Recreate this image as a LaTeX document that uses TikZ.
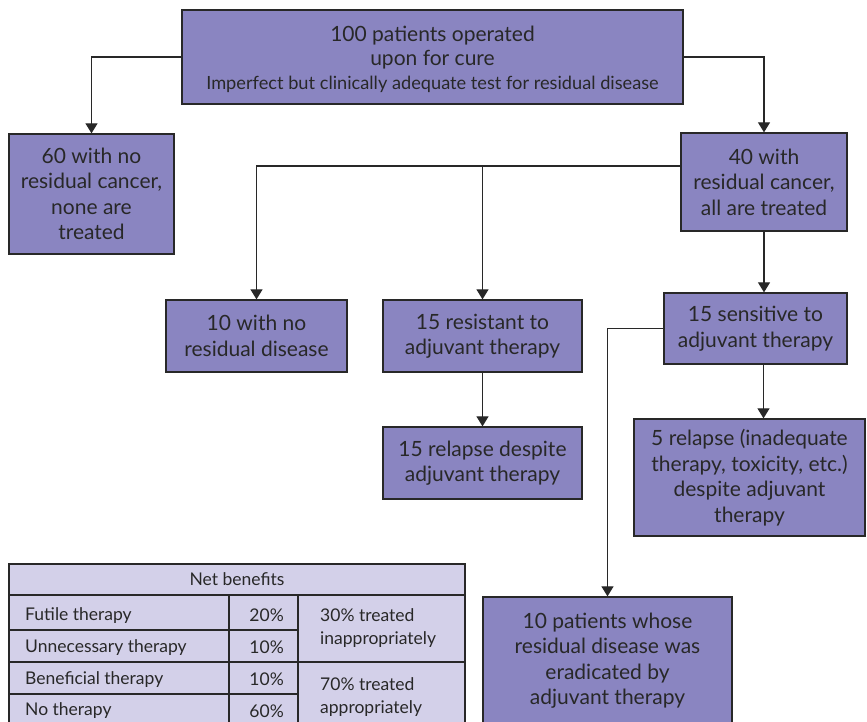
\documentclass[tikz,border=0pt]{standalone}
\usepackage{fontspec}
\setmainfont{Lato}
\usetikzlibrary{arrows.meta}
\definecolor{boxfill}{RGB}{138,133,193}
\definecolor{tabfill}{RGB}{211,208,233}
\definecolor{ink}{RGB}{40,40,40}
\begin{document}
\begin{tikzpicture}[x=1pt,y=-1pt,
  box/.style={draw=ink, line width=1.3pt, fill=boxfill, align=center, text=ink,
    font=\fontsize{21}{25.5}\selectfont, inner sep=0pt},
  arr/.style={draw=ink, line width=1.2pt, -{Triangle[width=12pt,length=10pt]}},
  tabline/.style={draw=ink, line width=1.1pt},
  tabtxt/.style={text=ink, font=\fontsize{17.5}{23}\selectfont, inner sep=0pt}]
\useasboundingbox (0,0) rectangle (867,721);

% boxes
\node[box, minimum width=501pt, minimum height=94pt] (top) at (432.5,57) {};
\node[text=ink, align=center, inner sep=0pt, font=\fontsize{21}{24}\selectfont] (toptxt) at (432.5,59)
  {100 patients operated\\ upon for cure\\ {\fontsize{18.2}{24}\selectfont Imperfect but clinically adequate test for residual disease}};
\node[box, minimum width=165pt, minimum height=120pt] (left60) at (91.5,194)
  {60 with no\\ residual cancer,\\ none are\\ treated};
\node[box, minimum width=166pt, minimum height=98pt] (r40) at (764,182)
  {40 with\\ residual cancer,\\ all are treated};
\node[box, minimum width=181pt, minimum height=72pt] (n10) at (256.5,336)
  {10 with no\\ residual disease};
\node[box, minimum width=199pt, minimum height=72pt] (res15) at (482.5,336)
  {15 resistant to\\ adjuvant therapy};
\node[box, minimum width=183pt, minimum height=71pt] (sens15) at (755.5,328.5)
  {15 sensitive to\\ adjuvant therapy};
\node[box, minimum width=199pt, minimum height=72pt] (rel15) at (482.5,463)
  {15 relapse despite\\ adjuvant therapy};
\node[box, minimum width=231pt, minimum height=117pt] (rel5) at (749.5,477.5)
  {5 relapse (inadequate\\ therapy, toxicity, etc.)\\ despite adjuvant\\ therapy};
\node[box, minimum width=249pt, minimum height=127pt] (erad) at (607.5,660.5)
  {10 patients whose\\ residual disease was\\ eradicated by\\ adjuvant therapy};

% connectors
\draw[arr] (top.west) -| (left60.north);
\draw[arr] (top.east) -| (r40.north);
\coordinate (split) at ([yshift=16pt]r40.west);
\draw[arr] (split) -| (n10.north);
\draw[arr] (split -| res15.north) -- (res15.north);
\draw[arr] (r40.south) -- (r40.south |- sens15.north);
\draw[arr] (sens15.west) -| (erad.north);
\coordinate (s15out) at ([xshift=8pt]sens15.south);
\draw[arr] (s15out) -- (s15out |- rel5.north);
\draw[arr] (res15.south) -- (rel15.north);

% table
\path[fill=tabfill] (9,564) rectangle (465,726);
\draw[tabline] (9,726) -- (9,564) -- (465,564) -- (465,726);
\draw[tabline] (9,595) -- (465,595);
\draw[tabline] (229,595) -- (229,726);
\draw[tabline] (298,595) -- (298,726);
\draw[tabline] (9,630) -- (298,630);
\draw[tabline] (9,662) -- (465,662);
\draw[tabline] (9,694) -- (298,694);

\node[tabtxt] (hdr) at (237,579) {Net benefits};
\node[tabtxt, anchor=west] (t1) at (25,616) {Futile therapy};
\node[tabtxt, anchor=west] (t2) at (25,648) {Unnecessary therapy};
\node[tabtxt, anchor=west] (t3) at (25,680) {Beneficial therapy};
\node[tabtxt, anchor=west] (t4) at (25,711) {No therapy};
\node[tabtxt, anchor=east] (p1) at (284,615) {20\%};
\node[tabtxt, anchor=east] (p2) at (284,647) {10\%};
\node[tabtxt, anchor=east] (p3) at (284,679) {10\%};
\node[tabtxt, anchor=east] (p4) at (284,711) {60\%};
\node[tabtxt, anchor=west, align=left] (c1) at (320,628) {30\% treated\\ inappropriately};
\node[tabtxt, anchor=west, align=left] (c2) at (320,697) {70\% treated\\ appropriately};
\end{tikzpicture}
\end{document}
